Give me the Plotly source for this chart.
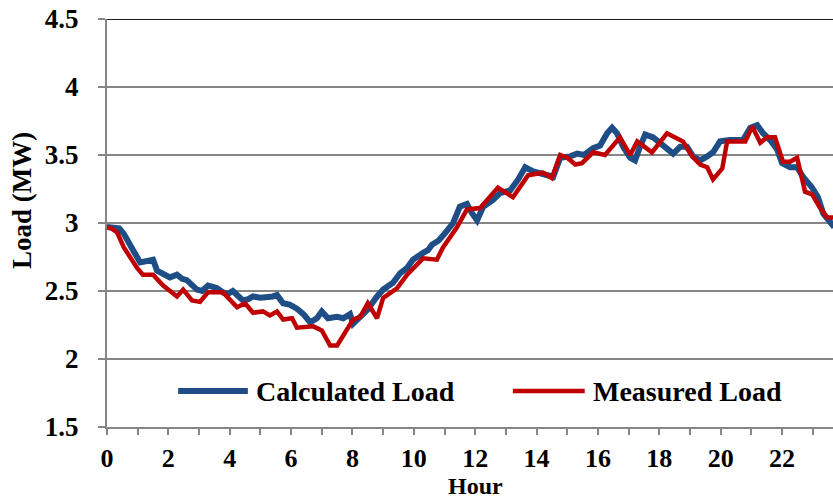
import plotly.graph_objects as go

# Calculated load (MW) over the day
calc_hour = [0.0, 0.2, 0.4, 0.55, 0.7, 0.85, 1.08, 1.25, 1.5, 1.63, 1.85, 2.05, 2.28, 2.45,
             2.6, 2.93, 3.1, 3.29, 3.45, 3.59, 3.78, 3.95, 4.1, 4.25, 4.43, 4.6, 4.76, 5.0,
             5.2, 5.4, 5.54, 5.74, 5.95, 6.19, 6.4, 6.62, 6.84, 7.0, 7.2, 7.5, 7.7, 7.92,
             8.02, 8.25, 8.48, 8.8, 9.0, 9.32, 9.55, 9.78, 9.97, 10.3, 10.46, 10.59, 10.8,
             11.0, 11.28, 11.5, 11.73, 11.9, 12.06, 12.26, 12.58, 12.81, 13.14, 13.4, 13.63,
             13.89, 14.34, 14.54, 14.77, 15.1, 15.32, 15.55, 15.84, 16.07, 16.3, 16.46,
             16.62, 16.82, 17.05, 17.21, 17.37, 17.54, 17.8, 18.02, 18.25, 18.45, 18.68,
             18.9, 19.1, 19.33, 19.56, 19.75, 19.98, 20.3, 20.73, 20.96, 21.19, 21.38,
             21.61, 21.84, 22.0, 22.26, 22.49, 22.68, 22.98, 23.17, 23.34, 23.56, 23.7]
calc_load = [2.97, 2.97, 2.96, 2.92, 2.85, 2.80, 2.71, 2.72, 2.73, 2.65, 2.63, 2.60, 2.62, 2.59,
             2.58, 2.51, 2.50, 2.54, 2.53, 2.52, 2.49, 2.48, 2.50, 2.47, 2.43, 2.44, 2.46, 2.45,
             2.45, 2.46, 2.47, 2.41, 2.40, 2.37, 2.33, 2.27, 2.30, 2.35, 2.30, 2.31, 2.30, 2.33,
             2.26, 2.31, 2.36, 2.46, 2.51, 2.56, 2.63, 2.67, 2.73, 2.78, 2.80, 2.84, 2.87,
             2.92, 3.00, 3.12, 3.14, 3.07, 3.02, 3.12, 3.17, 3.22, 3.24, 3.32, 3.41,
             3.38, 3.35, 3.34, 3.48, 3.49, 3.51, 3.50, 3.55, 3.57, 3.66, 3.70,
             3.66, 3.56, 3.48, 3.46, 3.56, 3.65, 3.63, 3.59, 3.55, 3.51, 3.56,
             3.56, 3.49, 3.46, 3.49, 3.52, 3.60, 3.61, 3.61, 3.70, 3.72, 3.66,
             3.61, 3.54, 3.44, 3.41, 3.41, 3.34, 3.26, 3.19, 3.07, 3.01, 2.97]

# Measured load (MW) over the day
meas_hour = [0.0, 0.15, 0.33, 0.55, 0.98, 1.17, 1.5, 1.83, 2.28, 2.48, 2.77, 3.03, 3.29, 3.78,
             4.24, 4.5, 4.76, 5.08, 5.31, 5.54, 5.74, 6.03, 6.19, 6.72, 7.0, 7.27, 7.5, 7.82,
             8.02, 8.25, 8.5, 8.8, 9.0, 9.45, 9.78, 10.3, 10.75, 10.95, 11.41, 11.73, 12.16,
             12.74, 13.23, 13.72, 14.21, 14.5, 14.77, 15.0, 15.26, 15.48, 15.84, 16.23, 16.72,
             17.05, 17.28, 17.76, 18.25, 18.77, 19.07, 19.33, 19.56, 19.75, 20.05, 20.21,
             20.8, 21.03, 21.29, 21.51, 21.77, 22.03, 22.26, 22.49, 22.75, 22.98, 23.24,
             23.47, 23.7]
meas_load = [2.97, 2.96, 2.93, 2.82, 2.67, 2.62, 2.62, 2.54, 2.46, 2.51, 2.43, 2.42, 2.49, 2.49,
             2.38, 2.41, 2.34, 2.35, 2.32, 2.35, 2.29, 2.30, 2.23, 2.24, 2.21, 2.10, 2.10, 2.21,
             2.29, 2.31, 2.41, 2.30, 2.45, 2.52, 2.62, 2.74, 2.73, 2.82, 2.97, 3.10, 3.11,
             3.26, 3.19, 3.35, 3.37, 3.33, 3.50, 3.48, 3.43, 3.44, 3.52, 3.50, 3.63,
             3.50, 3.60, 3.52, 3.66, 3.60, 3.49, 3.43, 3.41, 3.32, 3.40, 3.60,
             3.60, 3.71, 3.59, 3.63, 3.63, 3.45, 3.45, 3.48, 3.23, 3.21, 3.11,
             3.04, 3.04]

y_ticks = [1.5, 2, 2.5, 3, 3.5, 4, 4.5]
y_tick_text = ["1.5", "2", "2.5", "3", "3.5", "4", "4.5"]

BLUE = "#1F4E87"
RED = "#C00000"
GRID = "#868686"
FONT = "Liberation Serif"

fig = go.Figure()
fig.add_trace(go.Scatter(x=calc_hour, y=calc_load, mode="lines", name="Calculated Load",
                         line=dict(color=BLUE, width=6)))
fig.add_trace(go.Scatter(x=meas_hour, y=meas_load, mode="lines", name="Measured Load",
                         line=dict(color=RED, width=4.5)))

fig.update_layout(
    width=833, height=501,
    margin=dict(l=107, r=0, t=19, b=74),
    plot_bgcolor="white", paper_bgcolor="white",
    showlegend=False,
    font=dict(family=FONT, size=28, color="black", weight="bold"),
    xaxis=dict(
        range=[0, 23.66], dtick=2, tick0=0,
        showline=True, linecolor=GRID, linewidth=2,
        ticks="outside", ticklen=6, tickcolor=GRID, tickwidth=2,
        minor=dict(dtick=1, tick0=0, ticks="outside", ticklen=6, tickcolor=GRID, tickwidth=2),
        showgrid=False, zeroline=False,
        tickfont=dict(family=FONT, size=26, weight="bold"),
        ticklabelstandoff=1,
    ),
    yaxis=dict(
        range=[1.5, 4.5], tickvals=y_ticks, ticktext=y_tick_text,
        showline=True, linecolor=GRID, linewidth=2,
        ticks="outside", ticklen=7, tickcolor=GRID, tickwidth=2,
        showgrid=True, gridcolor=GRID, gridwidth=2, zeroline=False,
        tickfont=dict(family=FONT, size=27, weight="bold"),
        ticklabelstandoff=14,
    ),
)

# axis titles
fig.add_annotation(xref="paper", yref="paper", x=-0.117, y=0.554, text="Load (MW)",
                   textangle=-90, showarrow=False, xanchor="center", yanchor="middle",
                   font=dict(family=FONT, size=27, color="black", weight="bold"))
fig.add_annotation(xref="paper", yref="paper", x=0.507, y=-0.1455, text="Hour",
                   showarrow=False, xanchor="center", yanchor="middle",
                   font=dict(family=FONT, size=24, color="black", weight="bold"))

# dark top border of the plot area
fig.add_shape(type="line", xref="paper", yref="y", x0=0, x1=1, y0=4.5, y1=4.5,
              line=dict(color="#202020", width=2))

# legend drawn inside the plot area
legend_items = [("Calculated Load", BLUE, 6, 0.098, 0.194, 0.203),
                ("Measured Load", RED, 4.5, 0.559, 0.658, 0.667)]
for label, color, w, lx0, lx1, tx in legend_items:
    fig.add_shape(type="line", xref="paper", yref="paper", x0=lx0, x1=lx1, y0=0.088, y1=0.088,
                  line=dict(color=color, width=w))
    fig.add_annotation(xref="paper", yref="paper", x=tx, y=0.088, text=label, showarrow=False,
                       xanchor="left", yanchor="middle",
                       font=dict(family=FONT, size=28, color="black", weight="bold"))

fig.write_html("out.html")
